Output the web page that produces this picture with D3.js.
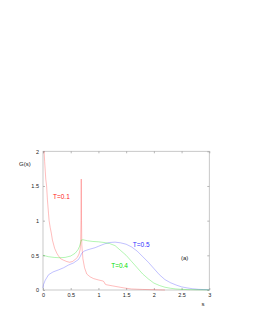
<!DOCTYPE html>
<html><head><meta charset="utf-8">
<script src="https://cdn.jsdelivr.net/npm/d3@7"></script>
<style>body{margin:0;background:#fff}svg{display:block}</style>
</head><body>
<svg id="c" width="253" height="327"></svg>
<script>
const xTicks = [0, 0.5, 1, 1.5, 2, 2.5, 3];
const yTicks = [0, 0.5, 1, 1.5, 2];
const xTickLabels = ["0", "0.5", "1", "1.5", "2", "2.5", "3"];
const yTickLabels = ["0", "0.5", "1", "1.5", "2"];

const seriesNames = ["T=0.1", "T=0.5", "T=0.4"];
const seriesColors = ["#ff2020", "#3030ff", "#00e000"];

const s01 = [0.02,0.03,0.05,0.065,0.08,0.1,0.11,0.13,0.15,0.17,0.21,0.25,0.28,0.32,0.37,0.43,0.48,0.53,0.58,0.62,0.65,0.67,0.68,0.685,0.69,0.695,0.70,0.72,0.75,0.79,0.85,0.91,1.0,1.08,1.1,1.12,1.15,1.25,1.39,1.5,1.6,1.8,2.0,2.2];
const g01 = [2.0,1.85,1.6,1.5,1.3,1.1,1.0,0.9,0.82,0.72,0.6,0.53,0.49,0.45,0.43,0.41,0.40,0.41,0.44,0.47,0.52,0.58,0.7,1.0,1.6,1.0,0.65,0.45,0.32,0.23,0.19,0.165,0.145,0.13,0.12,0.085,0.075,0.06,0.04,0.025,0.015,0.008,0.004,0.0];

const s05 = [0,0.01,0.04,0.1,0.18,0.28,0.37,0.46,0.55,0.64,0.67,0.7,0.74,0.79,0.85,0.94,1.0,1.11,1.2,1.3,1.4,1.5,1.6,1.7,1.8,1.9,2.0,2.1,2.2,2.3,2.4,2.5,2.6,2.7,2.8,2.9,3.0];
const g05 = [0.03,0.08,0.14,0.22,0.26,0.29,0.32,0.36,0.39,0.44,0.48,0.53,0.56,0.575,0.59,0.61,0.63,0.665,0.685,0.69,0.68,0.66,0.62,0.56,0.48,0.4,0.31,0.22,0.15,0.105,0.072,0.045,0.03,0.018,0.01,0.006,0.004];

const s04 = [0,0.1,0.2,0.3,0.4,0.5,0.58,0.63,0.66,0.69,0.72,0.8,0.9,1.0,1.1,1.2,1.3,1.4,1.5,1.6,1.7,1.8,1.9,2.0,2.1,2.2,2.3,2.4,2.5,2.6,2.8,3.0];
const g04 = [0.5,0.48,0.47,0.465,0.47,0.49,0.53,0.58,0.63,0.72,0.725,0.71,0.70,0.695,0.685,0.67,0.64,0.57,0.5,0.41,0.32,0.23,0.16,0.1,0.065,0.04,0.025,0.015,0.01,0.006,0.003,0.002];

const labelPos = [[0.18,1.31],[1.62,0.62],[1.23,0.32]];

const svg = d3.select("#c");
const x = d3.scaleLinear().domain([0,3]).range([43,209.3]);
const y = d3.scaleLinear().domain([0,2]).range([290,151.3]);
const font = "Liberation Sans, Arial, sans-serif";

svg.append("rect").attr("x",x(0)).attr("y",y(2)).attr("width",x(3)-x(0)).attr("height",y(0)-y(2))
  .attr("fill","none").attr("stroke","#bbb").attr("stroke-width",0.8);

const tk = 2;
const axB = d3.axisBottom(x).tickValues(xTicks).tickSize(-tk).tickPadding(3).tickFormat((d,i)=>xTickLabels[i]);
const axT = d3.axisTop(x).tickValues(xTicks).tickSize(-tk).tickFormat("");
const axL = d3.axisLeft(y).tickValues(yTicks).tickSize(-tk).tickPadding(4).tickFormat((d,i)=>yTickLabels[i]);
const axR = d3.axisRight(y).tickValues(yTicks).tickSize(-tk).tickFormat("");

function style(g){
  g.select(".domain").remove();
  g.selectAll(".tick line").attr("stroke","#999").attr("stroke-width",0.7);
  g.selectAll(".tick text").attr("fill","#222").style("font-family",font).style("font-size","5.5px");
}
svg.append("g").attr("transform",`translate(0,${y(0)})`).call(axB).call(style);
svg.append("g").attr("transform",`translate(0,${y(2)})`).call(axT).call(style);
svg.append("g").attr("transform",`translate(${x(0)},0)`).call(axL).call(style);
svg.append("g").attr("transform",`translate(${x(3)},0)`).call(axR).call(style);

const line = d3.line().x(d=>x(d[0])).y(d=>y(d[1]));
const series = [[s01,g01],[s05,g05],[s04,g04]];
series.forEach(([s,g],i)=>{
  svg.append("path").datum(s.map((v,j)=>[v,g[j]])).attr("d",line)
    .attr("fill","none").attr("stroke",seriesColors[i]).attr("stroke-width",0.5).attr("opacity",0.6);
  svg.append("text").attr("x",x(labelPos[i][0])).attr("y",y(labelPos[i][1]))
    .attr("fill",seriesColors[i]).style("font-family",font).style("font-size","6.5px").text(seriesNames[i]);
});

svg.append("text").attr("x",19).attr("y",166).style("font-family",font).style("font-size","6px").attr("fill","#222").text("G(s)");
svg.append("text").attr("x",201.5).attr("y",306).style("font-family",font).style("font-size","6px").attr("fill","#222").text("s");
svg.append("text").attr("x",181).attr("y",260).style("font-family",font).style("font-size","6px").attr("fill","#222").text("(a)");
</script>
</body></html>
